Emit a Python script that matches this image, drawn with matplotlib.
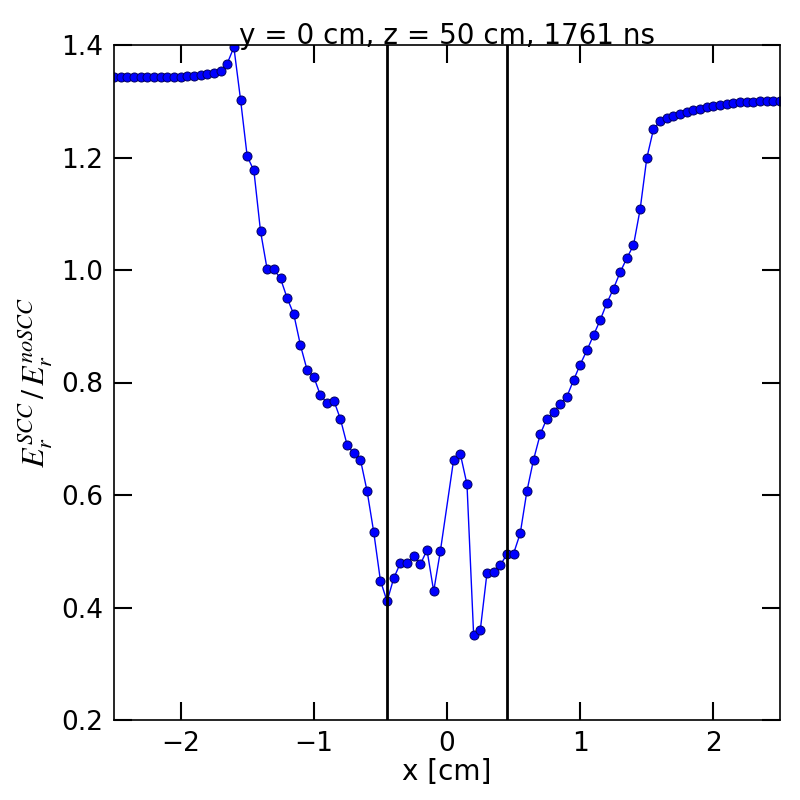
import numpy as np
import matplotlib
matplotlib.use("Agg")
from matplotlib import pyplot as plt

plt.rcParams['mathtext.fontset'] = 'stix'

# x grid in cm (the point at x = 0 is missing in the original)
x_left = [-2.5, -2.45, -2.4, -2.35, -2.3, -2.25, -2.2, -2.15, -2.1, -2.05,
          -2.0, -1.95, -1.9, -1.85, -1.8, -1.75, -1.7, -1.65, -1.6, -1.55,
          -1.5, -1.45, -1.4, -1.35, -1.3, -1.25, -1.2, -1.15, -1.1, -1.05,
          -1.0, -0.95, -0.9, -0.85, -0.8, -0.75, -0.7, -0.65, -0.6, -0.55,
          -0.5, -0.45, -0.4, -0.35, -0.3, -0.25, -0.2, -0.15, -0.1, -0.05]
y_left = [1.343, 1.343, 1.343, 1.343, 1.343, 1.343, 1.343, 1.343, 1.344, 1.344,
          1.344, 1.345, 1.345, 1.346, 1.348, 1.350, 1.354, 1.367, 1.396, 1.303,
          1.202, 1.177, 1.069, 1.001, 1.001, 0.985, 0.950, 0.921, 0.866, 0.822,
          0.810, 0.777, 0.764, 0.768, 0.735, 0.689, 0.674, 0.663, 0.607, 0.534,
          0.448, 0.411, 0.452, 0.479, 0.479, 0.491, 0.477, 0.502, 0.429, 0.500]
x_right = [0.05, 0.1, 0.15, 0.2, 0.25, 0.3, 0.35, 0.4, 0.45, 0.5,
           0.55, 0.6, 0.65, 0.7, 0.75, 0.8, 0.85, 0.9, 0.95, 1.0,
           1.05, 1.1, 1.15, 1.2, 1.25, 1.3, 1.35, 1.4, 1.45, 1.5,
           1.55, 1.6, 1.65, 1.7, 1.75, 1.8, 1.85, 1.9, 1.95, 2.0,
           2.05, 2.1, 2.15, 2.2, 2.25, 2.3, 2.35, 2.4, 2.45, 2.5]
y_right = [0.663, 0.673, 0.619, 0.351, 0.360, 0.461, 0.463, 0.475, 0.495, 0.496,
           0.532, 0.607, 0.663, 0.708, 0.736, 0.747, 0.762, 0.775, 0.804, 0.832,
           0.857, 0.884, 0.911, 0.941, 0.967, 0.996, 1.021, 1.044, 1.108, 1.199,
           1.250, 1.265, 1.270, 1.274, 1.278, 1.281, 1.284, 1.287, 1.290, 1.292,
           1.294, 1.296, 1.297, 1.298, 1.298, 1.299, 1.300, 1.300, 1.300, 1.300]
x = np.array(x_left + x_right)
y = np.array(y_left + y_right)
wall = 0.45  # vertical markers at +/- wall

fig = plt.figure(figsize=(8, 8), dpi=100)
ax = fig.add_axes([0.1425, 0.1, 0.8325, 0.84375])
ax.plot(x, y, color="#0000ff", lw=1, marker="o", ms=6.5,
        mfc="#0000ff", mec="#000060", mew=0.7)
ax.axvline(-wall, color="black", lw=2)
ax.axvline(wall, color="black", lw=2)
ax.set_xlim(-2.5, 2.5)
ax.set_ylim(0.2, 1.4)
ax.set_xticks([-2, -1, 0, 1, 2])
ax.set_yticks([0.2, 0.4, 0.6, 0.8, 1.0, 1.2, 1.4])
ax.tick_params(direction="in", length=13, width=1.5, labelsize=19,
               top=True, right=True, pad=8)
ax.set_xlabel("x [cm]", fontsize=20, labelpad=1)
ax.set_ylabel(r"$E_r^{SCC}\,/\,E_r^{noSCC}$", fontsize=23, labelpad=4)
ax.set_title("y = 0 cm, z = 50 cm, 1761 ns", fontsize=20, pad=1)
for s in ax.spines.values():
    s.set_linewidth(1.2)
plt.savefig("out.png", dpi=100)
